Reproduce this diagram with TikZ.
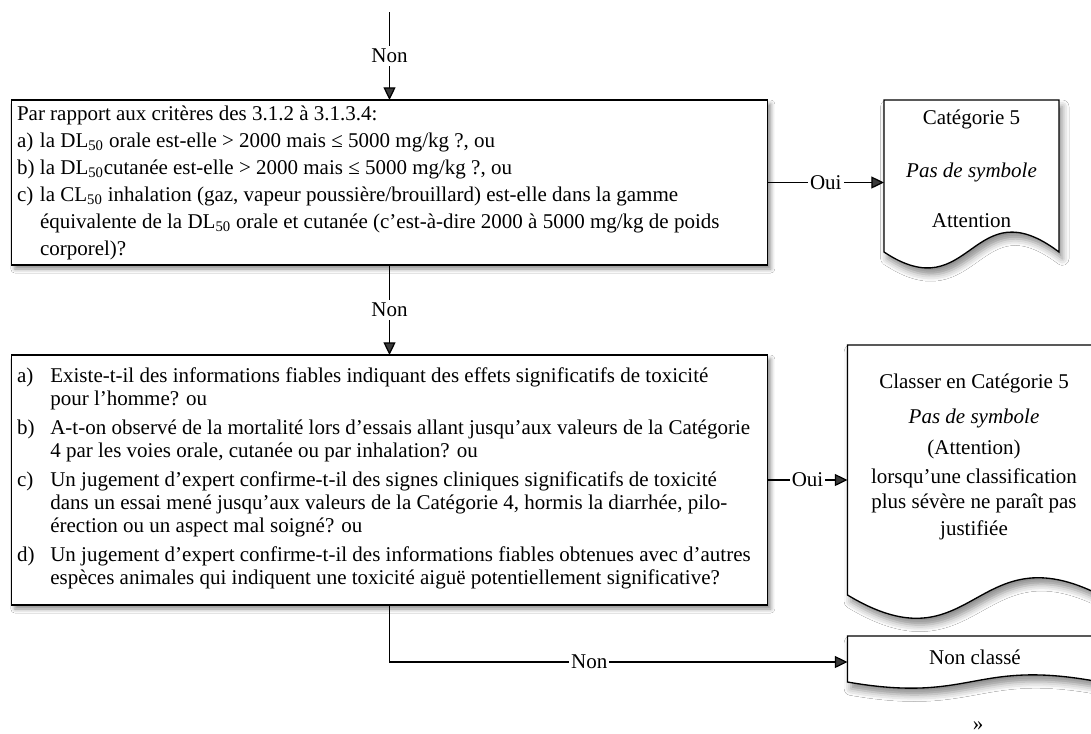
\documentclass[tikz,border=0pt]{standalone}
\usepackage{fontspec}
\setmainfont{Liberation Serif}
\usetikzlibrary{arrows.meta,calc,shadows.blur}

% Outline of a "document" shape laid over an invisible frame node:
% #1 frame node, #2 depth of the trough (left), #3 height of the crest (right)
\newcommand\docoutline[3]{%
  \path[docline] (#1.south east) -- (#1.north east) -- (#1.north west) -- (#1.south west)
    .. controls ($(#1.south)+(0,#2)$) and ($(#1.south)+(0,-#3)$) .. (#1.south east) -- cycle;}

\begin{document}
\begin{tikzpicture}[x=0.75pt,y=-0.75pt,
  every node/.style={font=\fontsize{15.75}{17.25}\selectfont, inner sep=0pt, outer sep=0pt},
  qbox/.style={draw, line width=1pt, fill=white,
    blur shadow={shadow xshift=2.5pt, shadow yshift=-3pt, shadow blur radius=3pt, shadow opacity=45}},
  docline/.style={draw, line width=1pt, fill=white,
    blur shadow={shadow xshift=2.5pt, shadow yshift=-5pt, shadow blur radius=5pt, shadow opacity=45}},
  frame/.style={rectangle},
  conn/.style={line width=0.9pt, -{Triangle[length=9.5pt,width=9pt]}},
  lbl/.style={fill=white, inner xsep=1.5pt, inner ysep=2.5pt},
]
\useasboundingbox (0,0) rectangle (1091,733);
\fill[white] (0,0) rectangle (1091,733);
\clip (0,0) rectangle (1091,733);

% ---- question boxes ----
\node[qbox, minimum width=567pt, minimum height=123.75pt] (q1) at (389.5,182.5) {};
\node[anchor=base west] (q1txt) at (17,120) {%
  \begin{tabular}[t]{@{}p{17.25pt}@{}l@{}}
  \multicolumn{2}{@{}l@{}}{Par rapport aux critères des 3.1.2 à 3.1.3.4:}\\[3pt]
  a) & la DL\textsubscript{50} orale est-elle > 2000 mais ≤ 5000 mg/kg ?, ou\\[3pt]
  b) & la DL\textsubscript{50}cutanée est-elle > 2000 mais ≤ 5000 mg/kg ?, ou\\[3pt]
  c) & la CL\textsubscript{50} inhalation (gaz, vapeur poussière/brouillard) est-elle dans la gamme\\[3pt]
     & équivalente de la DL\textsubscript{50} orale et cutanée (c’est-à-dire 2000 à 5000 mg/kg de poids\\[3pt]
     & corporel)?
  \end{tabular}};

\node[qbox, minimum width=567pt, minimum height=187.5pt] (q2) at (389.5,480) {};
\node[anchor=base west] (q2txt) at (17,382) {%
  \begin{tabular}[t]{@{}p{25pt}@{}l@{}}
  a) & Existe-t-il des informations fiables indiquant des effets significatifs de toxicité\\
     & pour l’homme? ou\\[4.5pt]
  b) & A-t-on observé de la mortalité lors d’essais allant jusqu’aux valeurs de la Catégorie\\
     & 4 par les voies orale, cutanée ou par inhalation? ou\\[4.5pt]
  c) & Un jugement d’expert confirme-t-il des signes cliniques significatifs de toxicité\\
     & dans un essai mené jusqu’aux valeurs de la Catégorie 4, hormis la diarrhée, pilo-\\
     & érection ou un aspect mal soigné? ou\\[4.5pt]
  d) & Un jugement d’expert confirme-t-il des informations fiables obtenues avec d’autres\\
     & espèces animales qui indiquent une toxicité aiguë potentiellement significative?
  \end{tabular}};

% ---- result documents ----
\node[frame, minimum width=131.25pt, minimum height=114pt] (docA) at (971.5,176) {};
\docoutline{docA}{58}{66}
\node[anchor=base] (docAtxt) at (971.5,124) {%
  \begin{tabular}[t]{@{}c@{}}
  Catégorie 5\\[22.5pt]
  \textit{Pas de symbole}\\[20.25pt]
  Attention
  \end{tabular}};

\node[frame, minimum width=189.375pt, minimum height=187.5pt] (docB) at (973.75,470) {};
\docoutline{docB}{76}{64}
\node[anchor=base] (docBtxt) at (974,388) {%
  \begin{tabular}[t]{@{}c@{}}
  Classer en Catégorie 5\\[9pt]
  \textit{Pas de symbole}\\[6pt]
  (Attention)\\[4.5pt]
  lorsqu’une classification\\[1.5pt]
  plus sévère ne paraît pas\\[3pt]
  justifiée
  \end{tabular}};

\node[frame, minimum width=189.375pt, minimum height=34.5pt] (docC) at (973.75,659) {};
\docoutline{docC}{22}{24}
\node[anchor=base] (docCtxt) at (975,664) {Non classé};

\node (quote) at (978,726) {»};

% ---- connectors ----
\coordinate (start) at (389.5,12);
\draw[conn] (start) -- (q1.north) node[lbl, midway] (n1) {Non};
\draw[conn] (q1.east) -- (q1.east -| docA.west) node[lbl, midway] (o1) {Oui};
\draw[conn] (q1.south) -- (q2.north) node[lbl, midway] (n2) {Non};
\draw[conn] (q2.east) -- (q2.east -| docB.west) node[lbl, midway] (o2) {Oui};
\coordinate (docCin) at ($(docC.west)+(0,3)$);
\draw[conn] (q2.south) |- (docCin) node[lbl, pos=0.718] (n3) {Non};
\end{tikzpicture}
\end{document}
